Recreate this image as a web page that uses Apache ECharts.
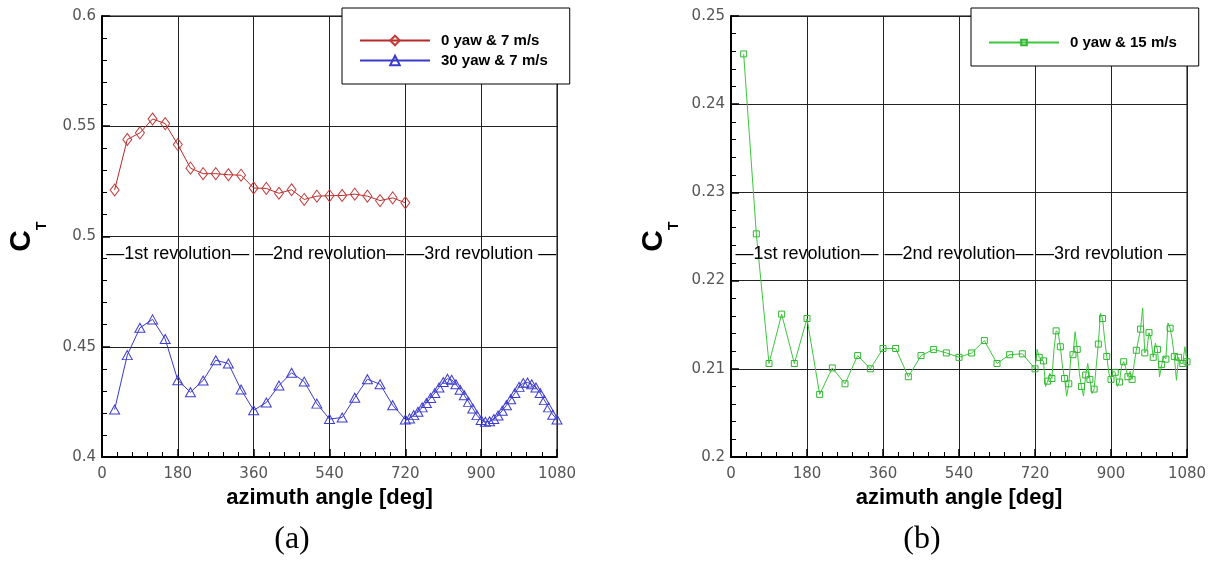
<!DOCTYPE html>
<html><head><meta charset="utf-8">
<script src="https://cdn.jsdelivr.net/npm/echarts@6/dist/echarts.min.js"></script>
<style>html,body{margin:0;padding:0;background:#fff}#c{width:1210px;height:561px}</style>
</head><body><div id="c"></div>
<script>
// ---- data ----
const redName = '0 yaw & 7 m/s';
const blueName = '30 yaw & 7 m/s';
const greenName = '0 yaw & 15 m/s';

const redAngles = [30,60,90,120,150,180,210,240,270,300,330,360,390,420,450,480,510,540,570,600,630,660,690,720];
const redCT = [0.5211,0.5440,0.5470,0.5533,0.5512,0.5417,0.5310,0.5285,0.5285,0.5280,0.5278,0.5220,0.5218,0.5196,0.5212,0.5168,0.5183,0.5185,0.5186,0.5192,0.5183,0.5163,0.5175,0.5153];

const blueAngles = [30,60,90,120,150,180,210,240,270,300,330,360,390,420,450,480,510,540,570,600,630,660,690,720,
  730,740,750,760,770,780,790,800,810,820,830,840,850,860,870,880,890,900,910,920,930,940,950,960,970,980,990,1000,1010,1020,1030,1040,1050,1060,1070,1080];
const blueCT = [0.4215,0.4462,0.4586,0.4624,0.4535,0.4348,0.4294,0.4347,0.4439,0.4424,0.4306,0.4212,0.4247,0.4324,0.4382,0.4342,0.4242,0.4172,0.4179,0.4269,0.4353,0.4330,0.4235,0.4170,
  0.4175,0.4190,0.4205,0.4225,0.4245,0.4268,0.4290,0.4315,0.4340,0.4355,0.4350,0.4330,0.4305,0.4280,0.4250,0.4220,0.4190,0.4168,0.4160,0.4162,0.4172,0.4188,0.4210,0.4235,0.4262,0.4290,0.4318,0.4335,0.4338,0.4330,0.4315,0.4290,0.4258,0.4225,0.4192,0.4170];

const greenAngles = [30,60,90,120,150,180,210,240,270,300,330,360,390,420,450,480,510,540,570,600,630,660,690,720,
  725,730,735,740,745,750,755,760,765,770,775,780,785,790,795,800,805,810,815,820,825,830,835,840,845,850,855,860,865,870,875,880,885,890,895,900,
  905,910,915,920,925,930,935,940,945,950,955,960,965,970,975,980,985,990,995,1000,1005,1010,1015,1020,1025,1030,1035,1040,1045,1050,1055,1060,1065,1070,1075,1080];
const greenCT = [0.2457,0.2253,0.2106,0.2162,0.2106,0.2157,0.2071,0.2101,0.2083,0.2115,0.2100,0.2123,0.2123,0.2091,0.2115,0.2122,0.2118,0.2113,0.2118,0.2132,0.2106,0.2116,0.2117,0.2100,
  0.2122,0.2113,0.2110,0.2109,0.2080,0.2086,0.2095,0.2089,0.2122,0.2143,0.2141,0.2125,0.2103,0.2089,0.2069,0.2083,0.2114,0.2116,0.2142,0.2122,0.2095,0.2080,0.2069,0.2093,0.2106,0.2088,0.2072,0.2077,0.2103,0.2128,0.2163,0.2157,0.2133,0.2114,0.2095,0.2088,
  0.2097,0.2096,0.2080,0.2085,0.2103,0.2108,0.2101,0.2091,0.2097,0.2088,0.2106,0.2121,0.2133,0.2145,0.2169,0.2118,0.2122,0.2141,0.2133,0.2113,0.2129,0.2122,0.2091,0.2105,0.2114,0.2111,0.2152,0.2146,0.2133,0.2114,0.2087,0.2113,0.2106,0.2106,0.2125,0.2108];

const revLabels = ['\u20141st revolution\u2014', '\u20142nd revolution\u2014', '\u20143rd revolution \u2014'];
const revCenters = [180, 540, 900];
const revLevelLeft = 0.4921, revLevelRight = 0.2230;

// ---- chart ----
const pairs = (xs, ys) => xs.map((x, i) => [x, ys[i]]);
const chart = echarts.init(document.getElementById('c'), null, {renderer: 'canvas'});

const tickFont = {fontSize: 15, color: '#555', fontFamily: 'DejaVu Sans', formatter: v => String(+v.toFixed(4))};
function axisCommon() {
  return {
    axisLine: {show: true, onZero: false, lineStyle: {color: '#000', width: 2}},
    axisTick: {show: true, inside: true, length: 8, lineStyle: {color: '#000', width: 1.5}},
    minorTick: {show: true, splitNumber: 5, length: 5, lineStyle: {color: '#000', width: 1}},
    splitLine: {show: true, lineStyle: {color: '#222', width: 1}},
    minorSplitLine: {show: false}
  };
}
function xAx(gi) {
  return Object.assign(axisCommon(), {
    type: 'value', gridIndex: gi, min: 0, max: 1080, interval: 180,
    axisLabel: Object.assign({margin: 10}, tickFont),
    name: 'azimuth angle [deg]', nameLocation: 'middle', nameGap: 26,
    nameTextStyle: {fontSize: 22, fontWeight: 'bold', color: '#000', fontFamily: 'Liberation Sans'}
  });
}
function yAx(gi, min, max, interval) {
  return Object.assign(axisCommon(), {
    type: 'value', gridIndex: gi, min: min, max: max, interval: interval,
    axisLabel: Object.assign({margin: 6}, tickFont)
  });
}
const legendBase = {
  orient: 'vertical', top: 8, itemWidth: 70, itemHeight: 12, itemGap: 5,
  backgroundColor: '#fff', borderColor: '#000', borderWidth: 1, borderRadius: 0,
  textStyle: {fontSize: 15, fontWeight: 'bold', color: '#000', fontFamily: 'Liberation Sans', padding: [0, 0, 0, 6]},
  selectedMode: false
};

chart.setOption({
  animation: false,
  backgroundColor: '#fff',
  grid: [
    {left: 102, top: 16, width: 455, height: 441, show: true, borderColor: '#000', borderWidth: 1, backgroundColor: 'transparent'},
    {left: 731, top: 16, width: 456, height: 441, show: true, borderColor: '#000', borderWidth: 1, backgroundColor: 'transparent'}
  ],
  xAxis: [xAx(0), xAx(1)],
  yAxis: [yAx(0, 0.4, 0.6, 0.05), yAx(1, 0.2, 0.25, 0.01)],
  legend: [
    Object.assign({}, legendBase, {left: 342, padding: [25, 22, 16, 17], data: [redName, blueName]}),
    Object.assign({}, legendBase, {left: 971, itemHeight: 7, padding: [27, 22, 16, 17], data: [greenName]})
  ],
  series: [
    {name: redName, type: 'line', xAxisIndex: 0, yAxisIndex: 0, data: pairs(redAngles, redCT),
     symbol: 'diamond', symbolSize: [9, 12], showAllSymbol: true,
     lineStyle: {color: '#b82a2a', width: 1},
     itemStyle: {color: 'rgba(255,255,255,0)', borderColor: '#c23a3a', borderWidth: 1}},
    {name: blueName, type: 'line', xAxisIndex: 0, yAxisIndex: 0, data: pairs(blueAngles, blueCT),
     symbol: 'triangle', symbolSize: [10, 9], showAllSymbol: true,
     lineStyle: {color: '#3a3ac8', width: 1},
     itemStyle: {color: 'rgba(255,255,255,0)', borderColor: '#3c3cd0', borderWidth: 1}},
    {name: greenName, type: 'line', xAxisIndex: 1, yAxisIndex: 1, data: pairs(greenAngles, greenCT),
     symbol: 'rect', showAllSymbol: true,
     symbolSize: function (v) { return v[0] % 10 === 0 ? 6 : 0; },
     lineStyle: {color: '#3cc83c', width: 1},
     itemStyle: {color: 'rgba(255,255,255,0)', borderColor: '#2fb82f', borderWidth: 1}}
  ]
});

// ---- annotations ----
const g = [];
revCenters.forEach((c, i) => {
  const pL = chart.convertToPixel({xAxisIndex: 0, yAxisIndex: 0}, [c, revLevelLeft]);
  const pR = chart.convertToPixel({xAxisIndex: 1, yAxisIndex: 1}, [c, revLevelRight]);
  [pL, pR].forEach(p => g.push({type: 'text', x: p[0], y: p[1], z: 100,
    style: {text: revLabels[i], font: '18px "Liberation Sans"', fill: '#000', align: 'center', verticalAlign: 'middle'}}));
});
function ctLabel(x, y) {
  return {type: 'group', x: x, y: y, rotation: Math.PI / 2, children: [
    {type: 'text', style: {text: 'C', x: 0, y: 0, font: 'bold 30px "Liberation Sans"', fill: '#000', align: 'center', verticalAlign: 'middle'}},
    {type: 'text', style: {text: 'T', x: 15, y: 20, font: 'bold 14px "Liberation Sans"', fill: '#000', align: 'center', verticalAlign: 'middle'}}
  ]};
}
g.push(ctLabel(22, 241), ctLabel(654, 241));
g.push({type: 'text', x: 292, y: 540, style: {text: '(a)', font: '32px "Liberation Serif"', fill: '#000', align: 'center', verticalAlign: 'middle'}});
g.push({type: 'text', x: 922, y: 540, style: {text: '(b)', font: '32px "Liberation Serif"', fill: '#000', align: 'center', verticalAlign: 'middle'}});
chart.setOption({graphic: g});
</script>
</body></html>
